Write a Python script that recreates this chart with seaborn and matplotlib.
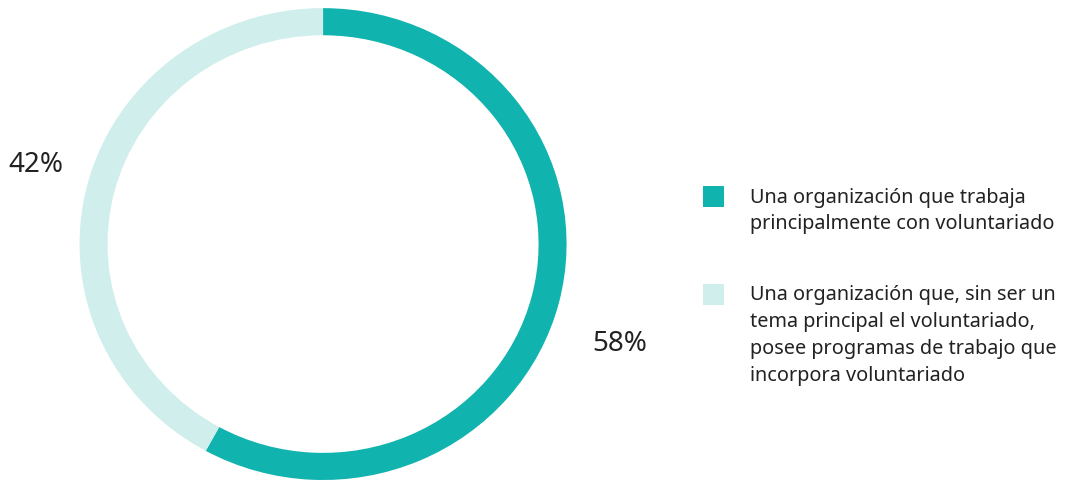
import matplotlib
matplotlib.use("Agg")
import matplotlib.pyplot as plt
import seaborn as sns
from matplotlib.patches import Rectangle

sns.set_theme(style="white")
plt.rcParams["font.family"] = ["Noto Sans", "DejaVu Sans"]

categories = [
    "Una organización que trabaja\nprincipalmente con voluntariado",
    "Una organización que, sin ser un\ntema principal el voluntariado,\nposee programas de trabajo que\nincorpora voluntariado",
]
values = [58, 42]
pct_labels = ["58%", "42%"]
colors = ["#10b3ae", "#cfeeec"]

W, H = 1069, 481
fig = plt.figure(figsize=(W / 100, H / 100), dpi=100)
ax = fig.add_axes([0.0744, 0.0, 0.4556, 0.981])
wedges, _ = ax.pie(
    values,
    colors=colors,
    startangle=90,
    counterclock=False,
    radius=1.0,
    wedgeprops=dict(width=0.115, linewidth=0),
)
ax.set_aspect("auto")
ax.set_xlim(-1, 1)
ax.set_ylim(-1, 1)
ax.axis("off")

# percentage labels outside the ring
ax.text(1.22, -0.42, pct_labels[0], fontsize=20, color="#222222",
        ha="center", va="center")
ax.text(-1.18, 0.34, pct_labels[1], fontsize=20, color="#222222",
        ha="center", va="center")

# legend: square aligned with first text line, wrapped labels
y = 195          # pixel center of first legend line (from top)
line_pitch = 27
entry_gap = 71
sq = 21
for cat, col in zip(categories, colors):
    lines = cat.split("\n")
    fig.add_artist(Rectangle(((703) / W, 1 - (y + 2 + sq / 2) / H), sq / W, sq / H,
                             transform=fig.transFigure, facecolor=col,
                             edgecolor="none"))
    for i, line in enumerate(lines):
        fig.text(750 / W, 1 - (y + i * line_pitch) / H, line, fontsize=14.3,
                 color="#222222", ha="left", va="center_baseline")
    y += (len(lines) - 1) * line_pitch + entry_gap

fig.savefig("out.png", dpi=100)
